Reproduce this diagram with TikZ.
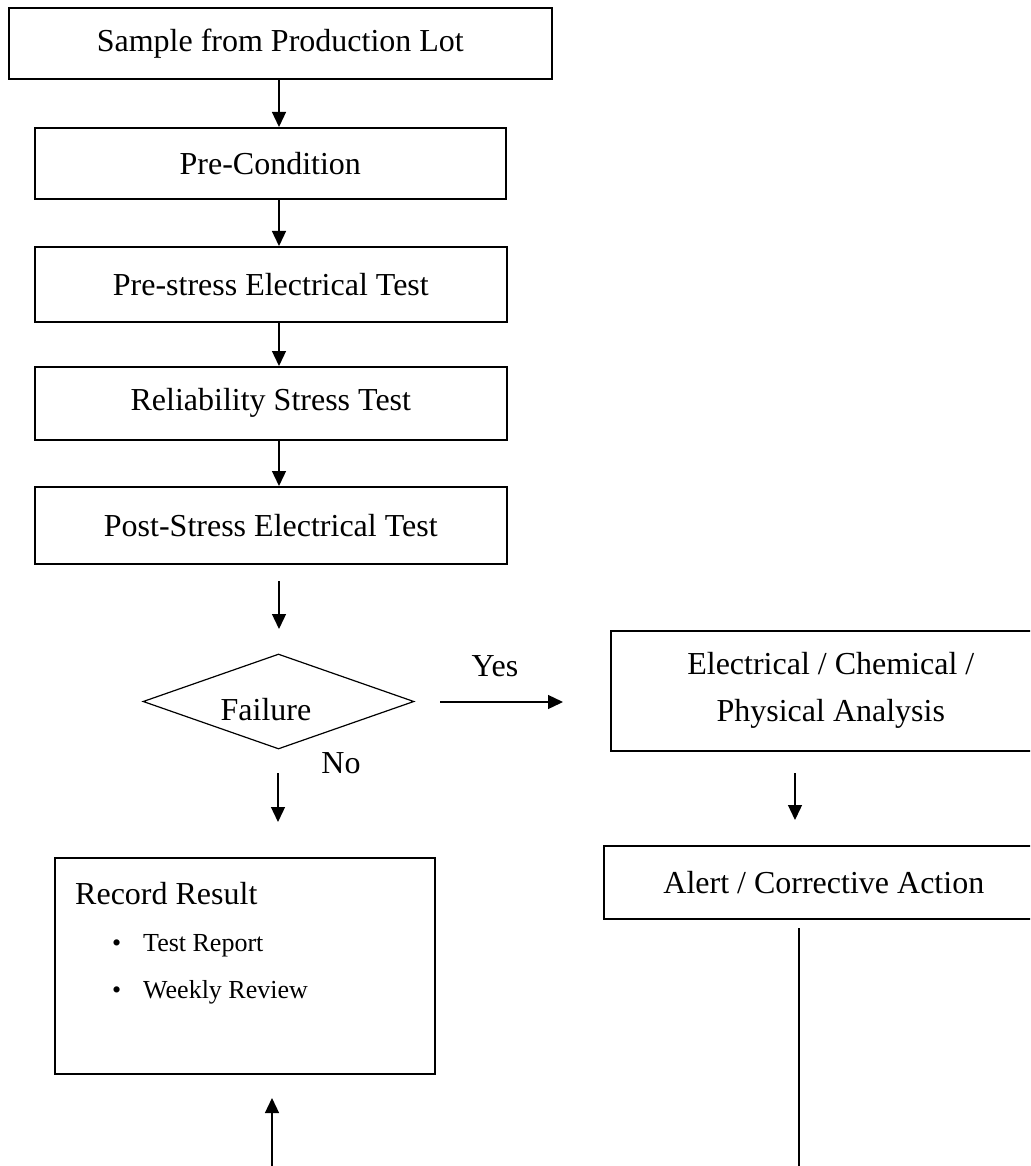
\documentclass[tikz,border=0pt]{standalone}
\usepackage{fontspec}
\setmainfont{Liberation Serif}
\usetikzlibrary{arrows.meta,shapes.geometric}
\begin{document}
\begin{tikzpicture}[x=1pt,y=-1pt,
  box/.style={draw,line width=1.6pt,inner sep=0pt,anchor=north west,
    font=\fontsize{32}{47}\selectfont,align=center},
  arr/.style={line width=1.3pt,-{Triangle[length=15pt,width=14pt]}},
  plain/.style={line width=1.3pt},
  lbl/.style={font=\fontsize{32}{38}\selectfont,inner sep=0pt,anchor=base},
  small/.style={font=\fontsize{26}{30}\selectfont,inner sep=0pt,anchor=base west}]
\useasboundingbox (0,0) rectangle (1030,1166);
\clip (0,0) rectangle (1030,1166);
% left column
\node[box,minimum width=543pt,minimum height=71pt] (b1) at (8,7) {Sample from Production Lot};
\node[box,minimum width=471pt,minimum height=71pt] (b2) at (34,127) {Pre-Condition};
\node[box,minimum width=472pt,minimum height=75pt] (b3) at (34,246) {Pre-stress Electrical Test};
\node[box,minimum width=472pt,minimum height=73pt] (b4) at (34,366) {Reliability Stress Test};
\node[box,minimum width=472pt,minimum height=77pt] (b5) at (34,486) {Post-Stress Electrical Test};
% decision
\node[diamond,draw,line width=1.2pt,inner sep=0pt,minimum width=271pt,minimum height=95pt] (dia) at (278.5,701.5) {};
\node[lbl] (fail) at (266,720) {Failure};
\node[lbl] (yes) at (495,676) {Yes};
\node[lbl] (no) at (341,773) {No};
% right column
\node[box,minimum width=440pt,minimum height=120pt] (ana) at (610,630) {Electrical / Chemical /\\Physical Analysis};
\node[box,minimum width=440pt,minimum height=73pt] (alert) at (603,845) {Alert / Corrective Action};
% record box
\node[draw,line width=1.6pt,inner sep=0pt,anchor=north west,minimum width=380pt,minimum height=216pt] (rec) at (54,857) {};
\node[lbl,anchor=base west] (rectitle) at (75,904) {Record Result};
\node[small] (bul1) at (112,951) {•};
\node[small] (item1) at (143,951) {Test Report};
\node[small] (bul2) at (112,998) {•};
\node[small] (item2) at (143,998) {Weekly Review};
% helper coordinates
\coordinate (ax) at (279,0);
\coordinate (a5s) at (279,581);
\coordinate (a5e) at (279,629);
\coordinate (yesS) at (440,702);
\coordinate (yesE) at (563,702);
\coordinate (noS) at (278,773);
\coordinate (noE) at (278,822);
\coordinate (r1s) at (795,773);
\coordinate (r1e) at (795,820);
\coordinate (upS) at (272,1170);
\coordinate (upE) at (272,1098);
\coordinate (lineS) at (799,928);
\coordinate (lineE) at (799,1170);
% connectors
\draw[arr] (b1.south -| ax) -- (b2.north -| ax);
\draw[arr] (b2.south -| ax) -- (b3.north -| ax);
\draw[arr] (b3.south -| ax) -- (b4.north -| ax);
\draw[arr] (b4.south -| ax) -- (b5.north -| ax);
\draw[arr] (a5s) -- (a5e);
\draw[arr] (yesS) -- (yesE);
\draw[arr] (noS) -- (noE);
\draw[arr] (r1s) -- (r1e);
\draw[arr] (upS) -- (upE);
\draw[plain] (lineS) -- (lineE);
\end{tikzpicture}
\end{document}
